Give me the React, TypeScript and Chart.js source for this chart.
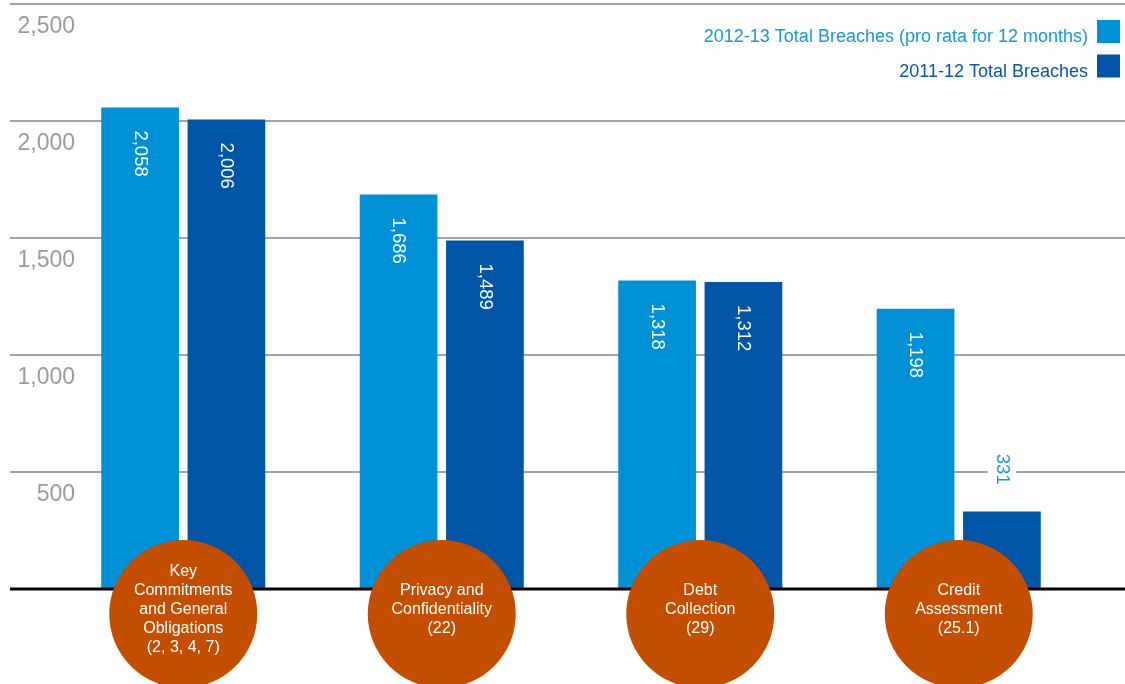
import React, { useEffect, useRef } from "react";
import { Chart, registerables } from "chart.js";

Chart.register(...registerables);

const categories: string[][] = [
  ["Key", "Commitments", "and General", "Obligations", "(2, 3, 4, 7)"],
  ["Privacy and", "Confidentiality", "(22)"],
  ["Debt", "Collection", "(29)"],
  ["Credit", "Assessment", "(25.1)"],
];
const series2013 = [2058, 1686, 1318, 1198];
const series2012 = [2006, 1489, 1312, 331];
const seriesNames = ["2012-13 Total Breaches (pro rata for 12 months)", "2011-12 Total Breaches"];
const yTicks = [500, 1000, 1500, 2000, 2500];
const yMax = 2500;

const LIGHT = "#0090d5";
const DARK = "#0055a6";
const LIGHT_TEXT = "#1798d8";
const DARK_TEXT = "#0a58a8";
const ORANGE = "#c44e00";
const GRID = "#a3a3a3";
const TICK_TEXT = "#9b9b9b";
const FONT = "'Liberation Sans', Arial, Helvetica, sans-serif";

const fmt = (v: number) => v.toLocaleString("en-US");

const decorPlugin = {
  id: "decor",
  beforeDatasetsDraw(chart: any) {
    const { ctx, scales, width } = chart;
    const y = scales.y;
    ctx.save();
    ctx.strokeStyle = GRID;
    ctx.lineWidth = 2;
    ctx.font = `23px ${FONT}`;
    ctx.fillStyle = TICK_TEXT;
    ctx.textAlign = "right";
    ctx.textBaseline = "middle";
    yTicks.forEach((t) => {
      const py = Math.round(y.getPixelForValue(t));
      ctx.beginPath();
      ctx.moveTo(10, py);
      ctx.lineTo(width, py);
      ctx.stroke();
      ctx.fillText(fmt(t), 75, py + 22.5);
    });
    ctx.restore();
  },
  afterDatasetsDraw(chart: any) {
    const { ctx, scales, width } = chart;
    const x = scales.x;
    const y = scales.y;
    ctx.save();
    // zero line
    const y0 = y.getPixelForValue(0);
    ctx.strokeStyle = "#000";
    ctx.lineWidth = 3;
    ctx.beginPath();
    ctx.moveTo(10, y0);
    ctx.lineTo(width, y0);
    ctx.stroke();

    // value labels
    chart.data.datasets.forEach((ds: any, di: number) => {
      const meta = chart.getDatasetMeta(di);
      meta.data.forEach((bar: any, i: number) => {
        const v = ds.data[i];
        const txt = fmt(v);
        ctx.font = `18.5px ${FONT}`;
        const tw = ctx.measureText(txt).width;
        const inside = bar.base - bar.y > 150;
        let start: number;
        if (inside) {
          start = bar.y + 23;
        } else {
          start = bar.y - 27 - tw;
          ctx.fillStyle = "#fff";
          ctx.fillRect(bar.x - 14, start - 3, 28, tw + 6);
        }
        ctx.save();
        ctx.translate(bar.x, start);
        ctx.rotate(Math.PI / 2);
        ctx.fillStyle = inside ? "#fff" : LIGHT_TEXT;
        ctx.textAlign = "left";
        ctx.textBaseline = "middle";
        ctx.fillText(txt, 0, 0);
        ctx.restore();
      });
    });

    // category circles
    const r = 74;
    const cy = y0 + 25;
    categories.forEach((lines, i) => {
      const cx = x.getPixelForValue(i);
      ctx.fillStyle = ORANGE;
      ctx.beginPath();
      ctx.arc(cx, cy, r, 0, Math.PI * 2);
      ctx.fill();
      ctx.fillStyle = "#fff";
      ctx.font = `16px ${FONT}`;
      ctx.textAlign = "center";
      ctx.textBaseline = "middle";
      const lh = 19;
      const top = cy - 4 - ((lines.length - 1) * lh) / 2;
      lines.forEach((l, k) => ctx.fillText(l, cx, top + k * lh));
    });

    // legend
    const colors = [LIGHT, DARK];
    const tcolors = [LIGHT_TEXT, DARK_TEXT];
    const rows = [31.5, 66];
    ctx.font = `18px ${FONT}`;
    ctx.textAlign = "right";
    ctx.textBaseline = "middle";
    seriesNames.forEach((n, k) => {
      ctx.fillStyle = colors[k];
      ctx.fillRect(1097, rows[k] - 11.5, 23, 23);
      ctx.fillStyle = tcolors[k];
      ctx.fillText(n, 1088, rows[k] + 6);
    });
    ctx.restore();
  },
};

export default function App() {
  const ref = useRef<HTMLCanvasElement | null>(null);
  useEffect(() => {
    document.body.style.margin = "0";
    if (!ref.current) return;
    const chart = new Chart(ref.current, {
      type: "bar",
      data: {
        labels: categories.map((c) => c.join(" ")),
        datasets: [
          { label: seriesNames[0], data: series2013, backgroundColor: LIGHT, categoryPercentage: 0.668, barPercentage: 0.9 },
          { label: seriesNames[1], data: series2012, backgroundColor: DARK, categoryPercentage: 0.668, barPercentage: 0.9 },
        ],
      },
      options: {
        responsive: false,
        animation: false,
        layout: { padding: { top: 4, bottom: 95, left: 54, right: 37 } },
        plugins: { legend: { display: false }, tooltip: { enabled: false } },
        scales: {
          x: { display: false },
          y: { display: false, min: 0, max: yMax },
        },
      },
      plugins: [decorPlugin],
    });
    return () => chart.destroy();
  }, []);
  return (
    <div style={{ position: "absolute", left: 0, top: 0, width: 1125, height: 684, background: "#fff" }}>
      <canvas ref={ref} width={1125} height={684} />
    </div>
  );
}
